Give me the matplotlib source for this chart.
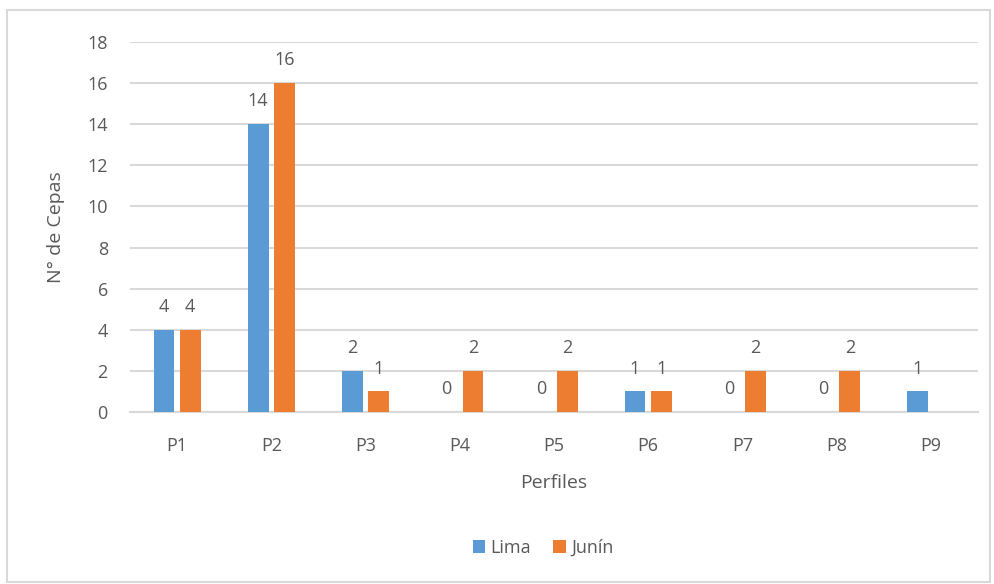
import numpy as np
import matplotlib
matplotlib.use("Agg")
import matplotlib.pyplot as plt
from matplotlib.patches import Rectangle

perfiles = ["P1", "P2", "P3", "P4", "P5", "P6", "P7", "P8", "P9"]
lima = [4, 14, 2, 0, 0, 1, 0, 0, 1]
junin = [4, 16, 1, 2, 2, 1, 2, 2, np.nan]  # P9 sin dato

plt.rcParams['font.family'] = ['Open Sans', 'DejaVu Sans']
gris = '#595959'

fig = plt.figure(figsize=(9.94, 5.84), dpi=100)
fig.patches.append(Rectangle((7/994, 2/584), 983/994, 572/584, transform=fig.transFigure,
                             fill=False, edgecolor='#D9D9D9', lw=1.5))
ax = fig.add_axes([130/994, 1-412/584, 848/994, 370/584])

x = np.arange(len(perfiles))
w = 0.22
off = 0.14
b1 = ax.bar(x - off, lima, w, color='#5B9BD5', label='Lima', zorder=3)
b2 = ax.bar(x + off, junin, w, color='#ED7D31', label='Junín', zorder=3)

for bars, vals in ((b1, lima), (b2, junin)):
    for r, v in zip(bars, vals):
        if np.isnan(v):
            continue
        ax.annotate(f"{int(v)}", (r.get_x() + r.get_width()/2, v), xytext=(0, 10),
                    textcoords='offset points', ha='center', va='bottom',
                    fontsize=13, color=gris)

ax.set_xlim(-0.5, len(perfiles) - 0.5)
ax.set_ylim(0, 18)
ax.set_yticks(range(0, 19, 2))
ax.set_xticks(x)
ax.set_xticklabels(perfiles)
ax.grid(axis='y', color='#D9D9D9', lw=1.5, zorder=0)
for s in ['top', 'right', 'left']:
    ax.spines[s].set_visible(False)
ax.spines['bottom'].set_color('#D9D9D9')
ax.spines['bottom'].set_linewidth(1.5)
ax.tick_params(length=0, labelsize=13, labelcolor=gris)
ax.tick_params(axis='x', pad=18)
ax.tick_params(axis='y', pad=16)
ax.set_xlabel('Perfiles', fontsize=14, color=gris, labelpad=14)
ax.set_ylabel('N° de Cepas', fontsize=14, color=gris, labelpad=16)

ax.legend(loc='center', bbox_to_anchor=(543/994, 1-548/584), bbox_transform=fig.transFigure,
          ncol=2, frameon=False, fontsize=13, labelcolor=gris, handlelength=0.7,
          handleheight=0.7, handletextpad=0.3, columnspacing=1.2)

fig.savefig('out.png', dpi=100)
